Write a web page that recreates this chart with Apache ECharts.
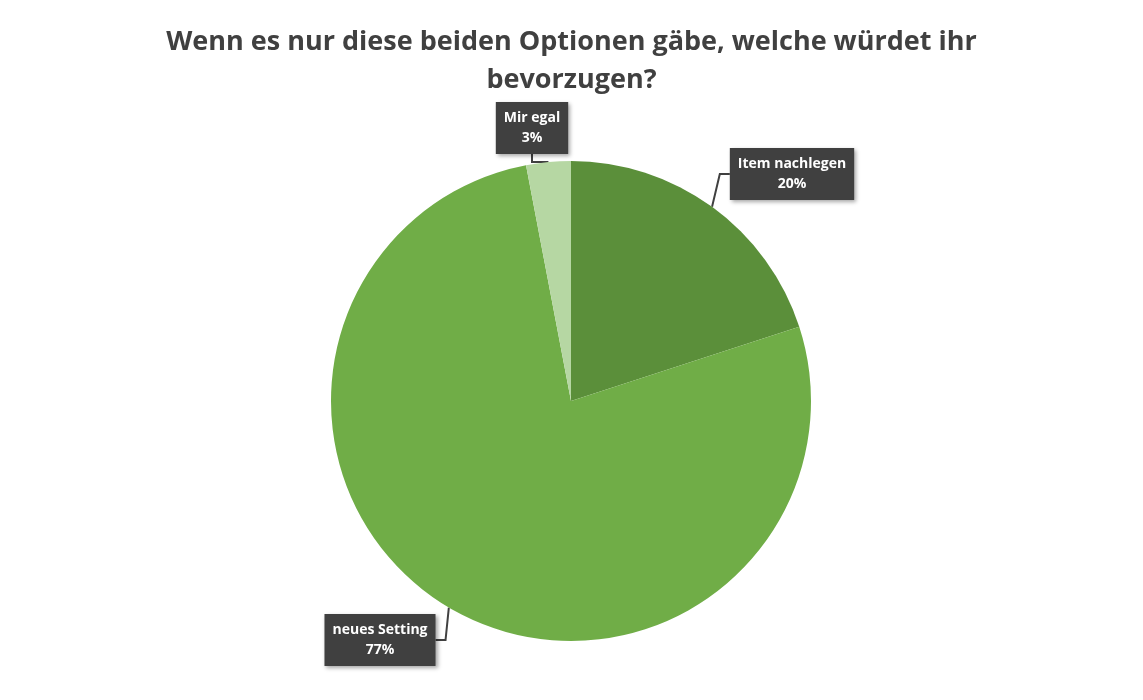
<!DOCTYPE html>
<html>
<head>
<meta charset="utf-8">
<script src="https://cdn.jsdelivr.net/npm/echarts@6/dist/echarts.min.js"></script>
<style>html,body{margin:0;background:#fff}#main{width:1143px;height:700px}</style>
</head>
<body>
<div id="main"></div>
<script>
var categories = ['Item nachlegen', 'neues Setting', 'Mir egal'];
var values = [20, 77, 3];
var colors = ['#5b8f3a', '#70ad47', '#b6d7a3'];

// label box anchor spots (center of callout)
var labelSpots = [[792, 174], [380, 640], [532, 128]];

var myChart = echarts.init(document.getElementById('main'));
var option = {
    title: {
        text: 'Wenn es nur diese beiden Optionen gäbe, welche würdet ihr\nbevorzugen?',
        left: 'center',
        top: 18,
        textStyle: {
            fontFamily: 'Open Sans',
            fontSize: 27,
            fontWeight: 'bold',
            color: '#404040',
            lineHeight: 38
        }
    },
    series: [{
        type: 'pie',
        center: [571, 401],
        radius: 240,
        startAngle: 90,
        clockwise: true,
        label: {
            show: true,
            formatter: '{b}\n{d}%',
            backgroundColor: '#404040',
            color: '#fff',
            fontFamily: 'Open Sans',
            fontWeight: 'bold',
            fontSize: 14,
            lineHeight: 20,
            align: 'center',
            padding: [6, 8],
            shadowColor: 'rgba(0,0,0,0.35)',
            shadowBlur: 4,
            shadowOffsetX: 2,
            shadowOffsetY: 2
        },
        labelLine: {show: true, length: 10, length2: 10, lineStyle: {color: '#404040', width: 2}},
        labelLayout: function (p) {
            var s = labelSpots[p.dataIndex];
            return {x: s[0], y: s[1], align: 'center', verticalAlign: 'middle'};
        },
        itemStyle: {borderColor: '#fff', borderWidth: 0},
        data: categories.map(function (c, i) {
            return {name: c, value: values[i], itemStyle: {color: colors[i]}};
        })
    }]
};
myChart.setOption(option);
</script>
</body>
</html>
